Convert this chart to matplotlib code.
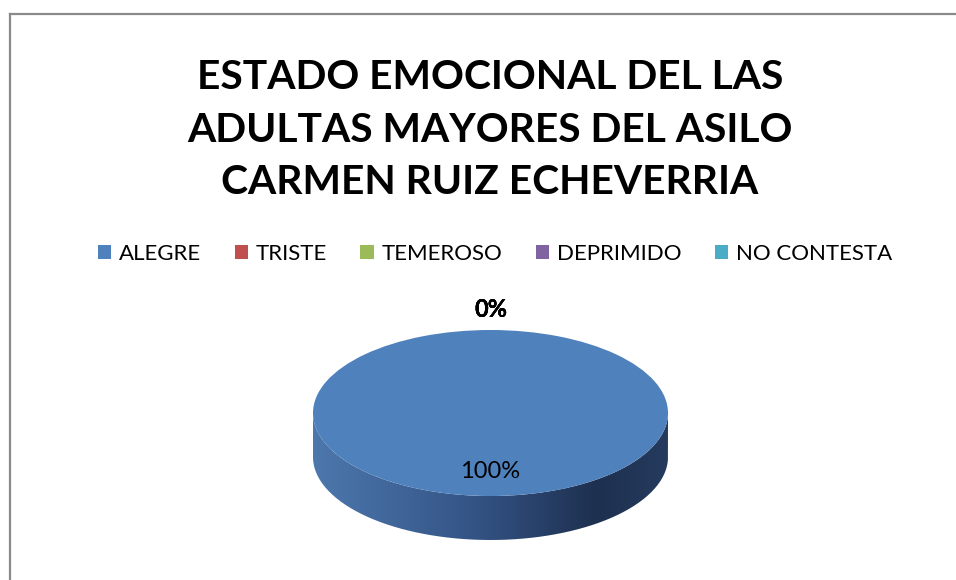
import matplotlib
matplotlib.use("Agg")
import matplotlib.pyplot as plt
import numpy as np
from matplotlib.colors import LinearSegmentedColormap
from matplotlib.path import Path
from matplotlib.patches import PathPatch
from matplotlib.lines import Line2D

TITLE = "ESTADO EMOCIONAL DEL LAS\nADULTAS MAYORES DEL ASILO\nCARMEN RUIZ ECHEVERRIA"
categories = ["ALEGRE", "TRISTE", "TEMEROSO", "DEPRIMIDO", "NO CONTESTA"]
values = [100, 0, 0, 0, 0]
colors = ["#4f81bd", "#c0504d", "#9bbb59", "#8064a2", "#4bacc6"]

W, H = 956, 580
fig = plt.figure(figsize=(W / 100, H / 100), dpi=100)

# chart border (gray frame, cut at right/bottom)
fig.add_artist(Line2D([9.5 / W, 9.5 / W], [0, 1 - 13.5 / H], color="#8a8a8a", lw=1.6))
fig.add_artist(Line2D([9.5 / W, 1], [1 - 13.5 / H, 1 - 13.5 / H], color="#8a8a8a", lw=1.6))

fig.text(490 / W, 1 - 130 / H, TITLE, ha="center", va="center",
         fontsize=29.3, fontweight="bold", family="Lato", linespacing=1.53)

# pie axes: unit circle maps onto the ellipse of the top face
depth = 0.53
ax = fig.add_axes([313 / W, 1 - 540 / H, 355 / W, 210 / H])

labels = ["%d%%" % v if v == 0 else "" for v in values]
wedges, texts, autotexts = ax.pie(
    values, colors=colors, startangle=90, counterclock=False, radius=1,
    labels=labels, labeldistance=1.25,
    autopct=lambda p: "%d%%" % round(p) if p > 0 else "", pctdistance=0.7,
    wedgeprops=dict(linewidth=0),
    textprops=dict(family="Lato", fontsize=17),
)
for t in texts:
    t.set_ha("center")
    t.set_fontweight("bold")

ax.set_aspect("auto")
ax.set_xlim(-1.0, 1.0)
ax.set_ylim(-1.0 - depth, 1.0)
ax.axis("off")

# side of the 3d disc, gradient left (light) to right (dark)
th = np.linspace(np.pi, 2 * np.pi, 200)
upper = np.column_stack([np.cos(th), np.sin(th)])
lower = np.column_stack([np.cos(th[::-1]), np.sin(th[::-1]) - depth])
verts = np.vstack([upper, lower, upper[:1]])
side = PathPatch(Path(verts), facecolor="none", edgecolor="none", transform=ax.transData)
ax.add_patch(side)
cmap = LinearSegmentedColormap.from_list(
    "side", [(0, "#4d78ad"), (0.45, "#345486"), (0.8, "#1e304f"), (1.0, "#253b5e")])
grad = np.linspace(0, 1, 256).reshape(1, -1)
im = ax.imshow(grad, cmap=cmap, extent=[-1, 1, -1 - depth, 0], aspect="auto", zorder=0)
im.set_clip_path(side)
for w in wedges:
    w.set_zorder(2)

fig.legend(wedges, categories, loc="center", bbox_to_anchor=(495 / W, 1 - 254 / H),
           ncol=5, frameon=False, prop=dict(family="Lato", size=16),
           handlelength=0.6, handleheight=0.6, handletextpad=0.35, columnspacing=1.5)

fig.savefig("out.png", dpi=100)
